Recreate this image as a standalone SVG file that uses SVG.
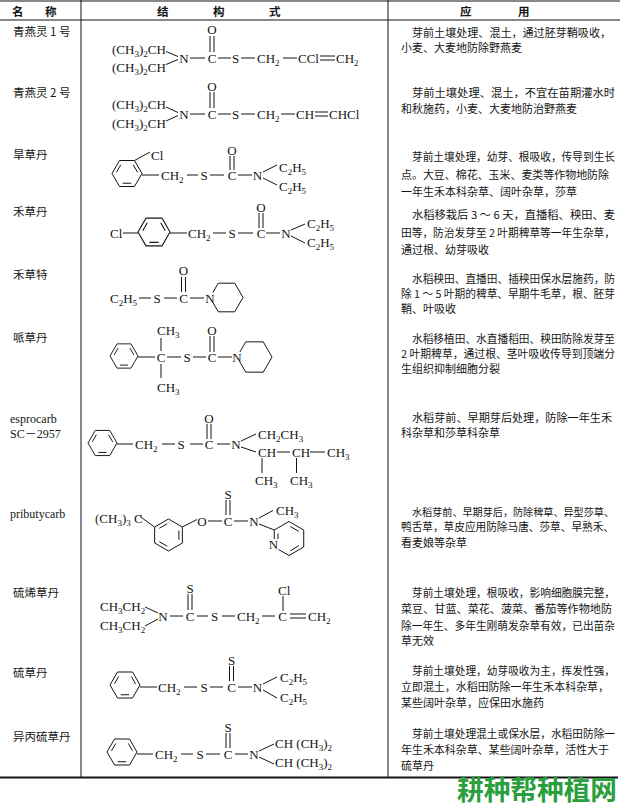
<svg xmlns="http://www.w3.org/2000/svg" xmlns:xlink="http://www.w3.org/1999/xlink" width="620" height="809" viewBox="0 0 620 809">
<style>
.t{font-family:"Liberation Serif","Noto Sans CJK SC",serif;font-size:13px;fill:#151515}
.s{font-size:9px}
.m{text-anchor:middle}
.b{stroke:#151515;stroke-width:1;fill:none}
.cn{font-family:"Noto Sans CJK SC",sans-serif;font-size:11px;fill:#151515}
.nm{font-family:"Noto Sans CJK SC",sans-serif;font-size:11.5px;fill:#151515}
.la{font-family:"Liberation Serif","Noto Sans CJK SC",serif;font-size:12px;fill:#151515}
.hd{font-family:"Noto Sans CJK SC",sans-serif;font-size:11.5px;font-weight:bold;fill:#151515}
.grid{stroke:#151515;fill:none}
</style>
<defs>
<g id="bz" class="b">
<path d="M-15,0 L-7.5,-13 L7.5,-13 L15,0 L7.5,13 L-7.5,13 Z"/>
<path d="M-10.575,-1.17 L-6.3,-8.57 M6.3,-8.57 L10.575,-1.17 M4.275,9.74 L-4.275,9.74"/>
</g>
<g id="bz2" class="b">
<path d="M0,-16 L13.86,-8 L13.86,8 L0,16 L-13.86,8 L-13.86,-8 Z"/>
<path d="M10.39,-4.56 L10.39,4.56 M-1.25,11.28 L-9.14,6.72 M-9.14,-6.72 L-1.25,-11.28"/>
</g>
</defs>
<rect width="620" height="809" fill="#ffffff"/>

<g id="grid" class="grid">
<path d="M0,1 H620 M0,20 H620 M81,0 V777 M388,0 V777" stroke-width="1"/>
<line x1="0" y1="777.5" x2="618" y2="777.5" stroke-width="2.2"/>
</g>

<g id="header">
<text class="hd" x="12" y="16">名</text>
<text class="hd" x="45" y="16">称</text>
<text class="hd" x="157" y="16">结</text>
<text class="hd" x="213" y="16">构</text>
<text class="hd" x="269" y="16">式</text>
<text class="hd" x="460" y="16">应</text>
<text class="hd" x="518" y="16">用</text>
</g>

<g id="row1">
<text class="nm" x="13" y="36">青燕灵 1 号</text>
<text class="t" x="112" y="53.5">(CH<tspan class="s" dy="3">3</tspan><tspan dy="-3">)</tspan><tspan class="s" dy="3">2</tspan><tspan dy="-3">CH</tspan></text>
<text class="t" x="112" y="71.5">(CH<tspan class="s" dy="3">3</tspan><tspan dy="-3">)</tspan><tspan class="s" dy="3">2</tspan><tspan dy="-3">CH</tspan></text>
<text class="t m" x="184" y="62.5">N</text>
<text class="t m" x="212" y="62.5">C</text>
<text class="t m" x="212" y="33.5">O</text>
<text class="t m" x="235.5" y="62.5">S</text>
<text class="t" x="257" y="62.5">CH<tspan class="s" dy="3">2</tspan></text>
<text class="t" x="298" y="62.5">CCl</text>
<text class="t" x="336" y="62.5">CH<tspan class="s" dy="3">2</tspan></text>
<g class="bonds"><path class="b" d="M166,51.5 L178,56.5 M166,64.5 L178,59.5 M190,58 H205 M210,36 V52 M214,36 V52 M218,58 H231 M241,58 H255 M283,58 H297 M320,56 H335 M320,60 H335"/></g>
<text class="cn" x="412" y="37" textLength="199" lengthAdjust="spacingAndGlyphs">芽前土壤处理、混土，通过胚芽鞘吸收，</text>
<text class="cn" x="401" y="52">小麦、大麦地防除野燕麦</text>
</g>

<g id="row2">
<text class="nm" x="13" y="97">青燕灵 2 号</text>
<text class="t" x="112" y="109">(CH<tspan class="s" dy="3">3</tspan><tspan dy="-3">)</tspan><tspan class="s" dy="3">2</tspan><tspan dy="-3">CH</tspan></text>
<text class="t" x="112" y="128">(CH<tspan class="s" dy="3">3</tspan><tspan dy="-3">)</tspan><tspan class="s" dy="3">2</tspan><tspan dy="-3">CH</tspan></text>
<text class="t m" x="184" y="118.5">N</text>
<text class="t m" x="212" y="118.5">C</text>
<text class="t m" x="212" y="90.5">O</text>
<text class="t m" x="235.5" y="118.5">S</text>
<text class="t" x="257" y="118.5">CH<tspan class="s" dy="3">2</tspan></text>
<text class="t" x="296" y="118.5">CH</text>
<text class="t" x="329" y="118.5">CHCl</text>
<g class="bonds"><path class="b" d="M166,107 L178,112.5 M166,121 L178,115.5 M190,114 H205 M210,92 V108 M214,92 V108 M218,114 H231 M241,114 H255 M281,114 H295 M315,112 H328 M315,116 H328"/></g>
<text class="cn" x="412" y="97" textLength="203" lengthAdjust="spacingAndGlyphs">芽前土壤处理、混土，不宜在苗期灌水时</text>
<text class="cn" x="401" y="113">和秋施药，小麦、大麦地防治野燕麦</text>
</g>

<g id="row3">
<text class="nm" x="13" y="159">旱草丹</text>
<use xlink:href="#bz" href="#bz" transform="translate(127,173.5)"/>
<text class="t" x="151" y="159.5">Cl</text>
<text class="t" x="161" y="179.5">CH<tspan class="s" dy="3">2</tspan></text>
<text class="t m" x="204" y="179.5">S</text>
<text class="t m" x="232" y="179.5">C</text>
<text class="t m" x="232" y="154.5">O</text>
<text class="t m" x="257.5" y="179.5">N</text>
<text class="t" x="279" y="171.5">C<tspan class="s" dy="3">2</tspan><tspan dy="-3">H</tspan><tspan class="s" dy="3">5</tspan></text>
<text class="t" x="279" y="190.5">C<tspan class="s" dy="3">2</tspan><tspan dy="-3">H</tspan><tspan class="s" dy="3">5</tspan></text>
<g class="bonds"><path class="b" d="M134.5,160.5 L150,152 M142,175 H159 M187,175 H198 M210,175 H224 M230,156 V170 M234,156 V170 M238,175 H252 M263,172 L277,165 M263,178 L277,185"/></g>
<text class="cn" x="412" y="161" textLength="203" lengthAdjust="spacingAndGlyphs" style="font-size:10.8px">芽前土壤处理，幼芽、根吸收，传导到生长</text>
<text class="cn" x="401" y="178.5" textLength="208" lengthAdjust="spacingAndGlyphs">点。大豆、棉花、玉米、麦类等作物地防除</text>
<text class="cn" x="401" y="196">一年生禾本科杂草、阔叶杂草，莎草</text>
</g>

<g id="row4">
<text class="nm" x="13" y="216">禾草丹</text>
<text class="t" x="110" y="237.5">Cl</text>
<use xlink:href="#bz" href="#bz" transform="translate(154,232) scale(1.067)"/>
<text class="t" x="188" y="237.5">CH<tspan class="s" dy="3">2</tspan></text>
<text class="t m" x="232" y="237.5">S</text>
<text class="t m" x="261" y="237.5">C</text>
<text class="t m" x="261" y="211.5">O</text>
<text class="t m" x="286" y="237.5">N</text>
<text class="t" x="307" y="227.5">C<tspan class="s" dy="3">2</tspan><tspan dy="-3">H</tspan><tspan class="s" dy="3">5</tspan></text>
<text class="t" x="307" y="246.5">C<tspan class="s" dy="3">2</tspan><tspan dy="-3">H</tspan><tspan class="s" dy="3">5</tspan></text>
<g class="bonds"><path class="b" d="M123,233 H138 M170,233 H187 M213,233 H226 M238,233 H253 M259,213 V228 M263,213 V228 M266,233 H280 M291,230 L305,224 M291,236 L305,243"/></g>
<text class="cn" x="412" y="219" textLength="203" lengthAdjust="spacingAndGlyphs">水稻移栽后 3 ～ 6 天，直播稻、秧田、麦</text>
<text class="cn" x="401" y="237" textLength="214" lengthAdjust="spacingAndGlyphs">田等，防治发芽至 2 叶期稗草等一年生杂草，</text>
<text class="cn" x="401" y="254">通过根、幼芽吸收</text>
</g>

<g id="row5">
<text class="nm" x="13" y="279">禾草特</text>
<text class="t" x="110" y="302.5">C<tspan class="s" dy="3">2</tspan><tspan dy="-3">H</tspan><tspan class="s" dy="3">5</tspan></text>
<text class="t m" x="157" y="302.5">S</text>
<text class="t m" x="183.5" y="302.5">C</text>
<text class="t m" x="183.5" y="274.5">O</text>
<text class="t m" x="210" y="302.5">N</text>
<g class="bonds"><path class="b" d="M139,298 H151 M164,298 H177 M181.5,277 V292 M185.5,277 V292 M190,298 H204 M212.9,292.5 L218.25,283.2 H234.75 L243,297.5 L234.75,311.8 H218.25 L212.9,302.5"/></g>
<text class="cn" x="412" y="283" textLength="203" lengthAdjust="spacingAndGlyphs">水稻秧田、直播田、插秧田保水层施药，防</text>
<text class="cn" x="401" y="298" textLength="214" lengthAdjust="spacingAndGlyphs">除 1 ～ 5 叶期的稗草、早期牛毛草，根、胚芽</text>
<text class="cn" x="401" y="313">鞘、叶吸收</text>
</g>

<g id="row6">
<text class="nm" x="13" y="342">哌草丹</text>
<use xlink:href="#bz" href="#bz" transform="translate(124,356) scale(0.933)"/>
<text class="t m" x="161" y="361.5">C</text>
<text class="t" x="157" y="334.5">CH<tspan class="s" dy="3">3</tspan></text>
<text class="t" x="157" y="391.5">CH<tspan class="s" dy="3">3</tspan></text>
<text class="t m" x="187" y="361.5">S</text>
<text class="t m" x="212" y="361.5">C</text>
<text class="t m" x="212" y="334.5">O</text>
<text class="t m" x="237" y="361.5">N</text>
<g class="bonds"><path class="b" d="M138,357 H155 M161,338 V351 M161,364 V378 M167,357 H181 M193,357 H206 M210,336 V352 M214,336 V352 M218,357 H232 M239.9,352 L245.75,341.84 H263.25 L272,357 L263.25,372.16 H245.75 L239.9,362"/></g>
<text class="cn" x="412" y="343" textLength="203" lengthAdjust="spacingAndGlyphs">水稻移植田、水直播稻田、秧田防除发芽至</text>
<text class="cn" x="401" y="357.5" textLength="214" lengthAdjust="spacingAndGlyphs">2 叶期稗草，通过根、茎叶吸收传导到顶端分</text>
<text class="cn" x="401" y="372.5">生组织抑制细胞分裂</text>
</g>

<g id="row7">
<text class="la" x="10" y="422.5">esprocarb</text>
<text class="la" x="10" y="438">SC－2957</text>
<use xlink:href="#bz" href="#bz" transform="translate(102.5,443) scale(0.967)"/>
<text class="t" x="135" y="448.5">CH<tspan class="s" dy="3">2</tspan></text>
<text class="t m" x="181" y="448.5">S</text>
<text class="t m" x="209" y="448.5">C</text>
<text class="t m" x="209" y="422.5">O</text>
<text class="t m" x="236" y="448.5">N</text>
<text class="t" x="258" y="438.5">CH<tspan class="s" dy="3">2</tspan><tspan dy="-3">CH</tspan><tspan class="s" dy="3">3</tspan></text>
<text class="t" x="258" y="456.5">CH</text>
<text class="t" x="292" y="456.5">CH</text>
<text class="t" x="327" y="456.5">CH<tspan class="s" dy="3">3</tspan></text>
<text class="t" x="255" y="484.5">CH<tspan class="s" dy="3">3</tspan></text>
<text class="t" x="290" y="484.5">CH<tspan class="s" dy="3">3</tspan></text>
<g class="bonds"><path class="b" d="M117,444 H133 M162,444 H175 M190,444 H203 M207,424 V439 M211,424 V439 M217,444 H230 M241,441 L256,434 M241,447 L256,452 M277,452 H290 M310,452 H325 M262,458 V473 M296.5,458 V473"/></g>
<text class="cn" x="412" y="422" textLength="200" lengthAdjust="spacingAndGlyphs">水稻芽前、早期芽后处理，防除一年生禾</text>
<text class="cn" x="401" y="437">科杂草和莎草科杂草</text>
</g>

<g id="row8">
<text class="la" x="10" y="518">pributycarb</text>
<text class="t" x="95" y="523">(CH<tspan class="s" dy="3">3</tspan><tspan dy="-3">)</tspan><tspan class="s" dy="3">3</tspan><tspan dy="-3"> C</tspan></text>
<use xlink:href="#bz2" href="#bz2" transform="translate(168.5,535)"/>
<text class="t m" x="202" y="525.5">O</text>
<text class="t m" x="228" y="525.5">C</text>
<text class="t m" x="228" y="498.5">S</text>
<text class="t m" x="254" y="525.5">N</text>
<text class="t" x="276" y="514.5">CH<tspan class="s" dy="3">3</tspan></text>
<text class="t m" x="273.5" y="548.5">N</text>
<g class="bonds"><path class="b" d="M140,516.5 L154.64,527 M182.36,527 L197,519.5 M208,521 H222 M226,500 V515 M230,500 V515 M234,521 H248 M259,518 L273,510.5 M259,524 L274.28,530 M274.28,539 L274.28,530 L289,521.5 L303.72,530 L303.72,547 L289,555.5 L278.5,549.5 M290.32,526.5 L298.72,531.36 M298.72,545.64 L290.32,550.86 M277.96,533.5 L277.96,539"/></g>
<text class="cn" x="412" y="516" textLength="202" lengthAdjust="spacingAndGlyphs" style="font-size:10.3px">水稻芽前、早期芽后，防除稗草、异型莎草、</text>
<text class="cn" x="401" y="531" textLength="213" lengthAdjust="spacingAndGlyphs">鸭舌草，草皮应用防除马唐、莎草、早熟禾、</text>
<text class="cn" x="401" y="547">看麦娘等杂草</text>
</g>

<g id="row9">
<text class="nm" x="13" y="597">硫烯草丹</text>
<text class="t" x="100" y="610.5">CH<tspan class="s" dy="3">3</tspan><tspan dy="-3">CH</tspan><tspan class="s" dy="3">2</tspan></text>
<text class="t" x="100" y="629.5">CH<tspan class="s" dy="3">3</tspan><tspan dy="-3">CH</tspan><tspan class="s" dy="3">2</tspan></text>
<text class="t m" x="163" y="620.5">N</text>
<text class="t m" x="190" y="620.5">C</text>
<text class="t m" x="190" y="592.5">S</text>
<text class="t m" x="214.5" y="620.5">S</text>
<text class="t" x="237" y="620.5">CH<tspan class="s" dy="3">2</tspan></text>
<text class="t m" x="282.5" y="620.5">C</text>
<text class="t" x="278" y="594.5">Cl</text>
<text class="t" x="308" y="620.5">CH<tspan class="s" dy="3">2</tspan></text>
<g class="bonds"><path class="b" d="M145,607 L158,613 M145,626 L158,619 M170,616 H183 M188,594 V610 M192,594 V610 M197,616 H208 M222,616 H235 M262,616 H275 M283,596 V611 M290,614 H306 M290,618 H306"/></g>
<text class="cn" x="412" y="597" textLength="203" lengthAdjust="spacingAndGlyphs">芽前土壤处理，根吸收，影响细胞膜完整，</text>
<text class="cn" x="401" y="613" textLength="211" lengthAdjust="spacingAndGlyphs">菜豆、甘蓝、菜花、菠菜、番茄等作物地防</text>
<text class="cn" x="401" y="630" textLength="214" lengthAdjust="spacingAndGlyphs">除一年生、多年生刚萌发杂草有效，已出苗杂</text>
<text class="cn" x="401" y="645">草无效</text>
</g>

<g id="row10">
<text class="nm" x="13" y="677">硫草丹</text>
<use xlink:href="#bz" href="#bz" transform="translate(125,685)"/>
<text class="t" x="158" y="691.5">CH<tspan class="s" dy="3">2</tspan></text>
<text class="t m" x="204" y="691.5">S</text>
<text class="t m" x="231.5" y="691.5">C</text>
<text class="t m" x="231.5" y="664.5">S</text>
<text class="t m" x="257.5" y="691.5">N</text>
<text class="t" x="280" y="681.5">C<tspan class="s" dy="3">2</tspan><tspan dy="-3">H</tspan><tspan class="s" dy="3">5</tspan></text>
<text class="t" x="280" y="701.5">C<tspan class="s" dy="3">2</tspan><tspan dy="-3">H</tspan><tspan class="s" dy="3">5</tspan></text>
<g class="bonds"><path class="b" d="M140,687 H157 M184,687 H197 M210,687 H223 M229.5,666 V681 M233.5,666 V681 M238,687 H252 M263,684 L277,677 M263,690 L277,698"/></g>
<text class="cn" x="412" y="675" textLength="203" lengthAdjust="spacingAndGlyphs">芽前土壤处理，幼芽吸收为主，挥发性强，</text>
<text class="cn" x="401" y="691" textLength="208" lengthAdjust="spacingAndGlyphs">立即混土，水稻田防除一年生禾本科杂草，</text>
<text class="cn" x="401" y="707">某些阔叶杂草，应保田水施药</text>
</g>

<g id="row11">
<text class="nm" x="13" y="741">异丙硫草丹</text>
<use xlink:href="#bz" href="#bz" transform="translate(122,752)"/>
<text class="t" x="155" y="758.5">CH<tspan class="s" dy="3">2</tspan></text>
<text class="t m" x="200" y="758.5">S</text>
<text class="t m" x="228" y="758.5">C</text>
<text class="t m" x="228" y="731.5">S</text>
<text class="t m" x="254" y="758.5">N</text>
<text class="t" x="275" y="747.5">CH (CH<tspan class="s" dy="3">3</tspan><tspan dy="-3">)</tspan><tspan class="s" dy="3">2</tspan></text>
<text class="t" x="275" y="766.5">CH (CH<tspan class="s" dy="3">3</tspan><tspan dy="-3">)</tspan><tspan class="s" dy="3">2</tspan></text>
<g class="bonds"><path class="b" d="M137,754 H153 M181,754 H193 M206,754 H220 M226,733 V748 M230,733 V748 M235,754 H248 M259,751 L274,744 M259,757 L274,764"/></g>
<text class="cn" x="412" y="738" textLength="203" lengthAdjust="spacingAndGlyphs">芽前土壤处理混土或保水层，水稻田防除一</text>
<text class="cn" x="401" y="754" textLength="208" lengthAdjust="spacingAndGlyphs">年生禾本科杂草、某些阔叶杂草，活性大于</text>
<text class="cn" x="401" y="770">硫草丹</text>
</g>

<g id="watermark">
<text x="457" y="800" textLength="160" lengthAdjust="spacingAndGlyphs" style="font-family:'Noto Sans CJK SC',sans-serif;font-size:27px;font-weight:bold;fill:#2b9e3e">耕种帮种植网</text>
</g>
</svg>
